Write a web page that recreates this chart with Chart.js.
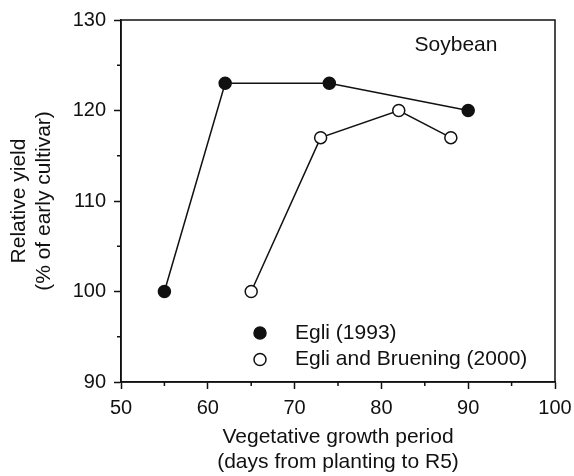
<!DOCTYPE html>
<html lang="en">
<head>
    <meta charset="UTF-8">
    <title>Soybean relative yield</title>
    <script src="https://cdn.jsdelivr.net/npm/chart.js"></script>
    <style>
        body { margin: 0; background: #fff; }
        canvas { display: block; }
    </style>
</head>
<body>
    <canvas id="chart" width="574" height="476"></canvas>

    <script>
        // Data
        const egli1993X = [55, 62, 74, 90];
        const egli1993Y = [100, 123, 123, 120];
        const egli2000X = [65, 73, 82, 88];
        const egli2000Y = [100, 117, 120, 117];
        const seriesLabels = ['Egli (1993)', 'Egli and Bruening (2000)'];
        const xTicks = [50, 60, 70, 80, 90, 100];
        const yTicks = [90, 100, 110, 120, 130];

        const FONT = 'Liberation Sans, Arial, sans-serif';
        const toPoints = (xs, ys) => xs.map((x, i) => ({ x: x, y: ys[i] }));

        // box, minor ticks, in-plot legend and label
        const extras = {
            id: 'extras',
            afterDraw(chart) {
                const ctx = chart.ctx;
                const a = chart.chartArea;
                const sx = chart.scales.x, sy = chart.scales.y;
                ctx.save();
                ctx.strokeStyle = '#111';
                ctx.lineWidth = 1.5;
                ctx.strokeRect(a.left, a.top, a.right - a.left, a.bottom - a.top);

                // minor ticks
                ctx.beginPath();
                for (let v = 55; v < 100; v += 10) {
                    const px = sx.getPixelForValue(v);
                    ctx.moveTo(px, a.bottom);
                    ctx.lineTo(px, a.bottom + 4);
                }
                for (let v = 95; v < 130; v += 10) {
                    const py = sy.getPixelForValue(v);
                    ctx.moveTo(a.left, py);
                    ctx.lineTo(a.left - 4, py);
                }
                ctx.stroke();

                // legend
                ctx.font = '21px ' + FONT;
                ctx.textBaseline = 'middle';
                ctx.fillStyle = '#111';
                const lx = a.left + 139, ly = a.top + 313;
                const styles = [['#111', '#111'], ['#fff', '#111']];
                seriesLabels.forEach((lab, i) => {
                    const y = ly + i * 26.5;
                    ctx.beginPath();
                    ctx.arc(lx, y, 6, 0, Math.PI * 2);
                    ctx.fillStyle = styles[i][0];
                    ctx.fill();
                    ctx.stroke();
                    ctx.fillStyle = '#111';
                    ctx.textAlign = 'left';
                    ctx.fillText(lab, lx + 35, y);
                });

                ctx.textAlign = 'center';
                ctx.fillText('Soybean', a.right - 99, a.top + 25);
                ctx.restore();
            }
        };

        new Chart(document.getElementById('chart'), {
            type: 'scatter',
            data: {
                datasets: [{
                    label: seriesLabels[0],
                    data: toPoints(egli1993X, egli1993Y),
                    showLine: true,
                    borderColor: '#111',
                    borderWidth: 1.5,
                    pointRadius: 6,
                    pointBackgroundColor: '#111',
                    pointBorderColor: '#111',
                    pointBorderWidth: 1.5
                }, {
                    label: seriesLabels[1],
                    data: toPoints(egli2000X, egli2000Y),
                    showLine: true,
                    borderColor: '#111',
                    borderWidth: 1.5,
                    pointRadius: 6,
                    pointBackgroundColor: '#fff',
                    pointBorderColor: '#111',
                    pointBorderWidth: 1.5
                }]
            },
            options: {
                responsive: false,
                animation: false,
                layout: { padding: { top: 20, right: 19, left: 0, bottom: 0 } },
                plugins: {
                    legend: { display: false },
                    tooltip: { enabled: false }
                },
                scales: {
                    x: {
                        type: 'linear',
                        min: 50,
                        max: 100,
                        afterBuildTicks: s => { s.ticks = xTicks.map(v => ({ value: v })); },
                        afterFit: s => { s.height = 94; s.paddingLeft = 0; s.paddingRight = 0; },
                        grid: { drawOnChartArea: false, tickLength: 7, tickColor: '#111', tickWidth: 1.5 },
                        border: { color: '#111', width: 1.5 },
                        ticks: { color: '#111', font: { family: FONT, size: 20 }, padding: 7, maxRotation: 0 },
                        title: {
                            display: true,
                            text: ['Vegetative growth period', '(days from planting to R5)'],
                            color: '#111',
                            font: { family: FONT, size: 21, lineHeight: 25 / 21 },
                            padding: { top: 0, bottom: 1.5 }
                        }
                    },
                    y: {
                        type: 'linear',
                        min: 90,
                        max: 130,
                        afterBuildTicks: s => { s.ticks = yTicks.map(v => ({ value: v })); },
                        afterFit: s => { s.width = 121; s.paddingTop = 0; s.paddingBottom = 0; },
                        grid: { drawOnChartArea: false, tickLength: 7, tickColor: '#111', tickWidth: 1.5 },
                        border: { color: '#111', width: 1.5 },
                        ticks: { color: '#111', font: { family: FONT, size: 20 }, padding: 8 },
                        title: {
                            display: true,
                            text: ['Relative yield', '(% of early cultivar)'],
                            color: '#111',
                            font: { family: FONT, size: 21, lineHeight: 25 / 21 },
                            padding: { top: 6.5, bottom: 0 }
                        }
                    }
                }
            },
            plugins: [extras]
        });
    </script>
</body>
</html>
